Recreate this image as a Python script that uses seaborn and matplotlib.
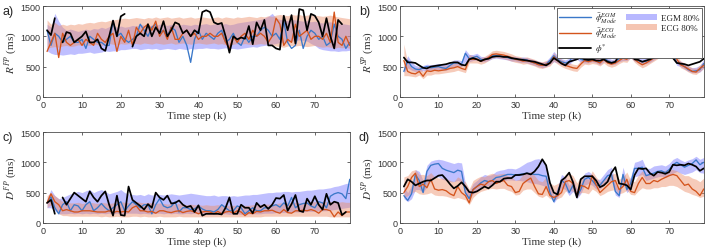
import numpy as np
import pandas as pd
import matplotlib
matplotlib.use("Agg")
import matplotlib.pyplot as plt
import seaborn as sns
from matplotlib.patches import Patch
from matplotlib.lines import Line2D

# ---------------- data ----------------
NaN = np.nan
# Panel a: R^FP
a_true = [1100, 1020, 1300, NaN, 900, 1070, 1050, 900, 950, 1000,
          1080, 900, 900, 950, 800, 760, 1000, 1260, 1000, 1330,
          1370, NaN, 830, 1000, 1050, 1000, 1200, 1000, 1150, 1050,
          1250, 1000, 1100, 1230, 1200, 1050, 1100, 1000, 1100, 1050,
          1400, 1430, 1400, 1230, 1200, 1220, 1000, 730, 1000, 950,
          980, 960, 1170, 870, 1230, 1100, 1270, 850, 850, 800,
          780, 1340, 1100, 1350, 880, 1450, 1430, 1100, 1370, 1340,
          1230, 1000, 1300, 1000, 800, 1270, 1200]
a_egm = [1100, 850, 1050, 1000, 900, 950, 1000, 900, 900, 950,
         800, 1000, 950, 900, 900, 850, 850, 1250, 1000, 1050,
         950, 900, 950, 1000, 1200, 1100, 1000, 1150, 1200, 1050,
         1100, 1000, 1150, 1100, 900, 1000, 850, 570, 950, 1100,
         950, 1050, 1000, 950, 1050, 1100, 900, 950, 1050, 900,
         850, 1000, 900, 1000, 1000, 1100, 1150, 1100, 1000, 1050,
         950, 1250, 900, 800, 850, 1100, 800, 1000, 1100, 1050,
         950, 1000, 850, 900, 1200, 1000, 950, 800, 900]
a_ecg = [750, 900, 1050, 650, 1050, 900, 850, 900, 950, 850,
         950, 900, 850, 1050, 950, 900, 1000, 1050, 750, 1000,
         900, 1100, 850, 1150, 1050, 1150, 1200, 1100, 1250, 1000,
         1100, 950, 1150, 950, 950, 1050, 1100, 1000, 1050, 950,
         1000, 1000, 1050, 1000, 1000, 1050, 900, 800, 1000, 900,
         1000, 1050, 950, 1100, 1000, 1050, 1000, 900, 1000, 1300,
         1200, 850, 950, 900, 1200, 1000, 1050, 1100, 950, 1000,
         1000, 950, 1050, 900, 1400, 900, 850, 1000, 850]
a_egm_lo = [760, 720, 700, 700, 690, 700, 710, 700, 720, 720,
            730, 740, 720, 730, 740, 760, 750, 760, 760, 780,
            780, 790, 800, 800, 780, 790, 800, 790, 800, 780,
            790, 800, 790, 780, 800, 790, 780, 800, 790, 800,
            800, 810, 800, 800, 790, 800, 810, 800, 800, 790,
            800, 810, 820, 830, 820, 840, 850, 860, 870, 880,
            900, 900, 910, 920, 930, 940, 930, 920, 880, 850,
            800, 780, 770, 760, 760, 750, 760, 760, 770]
a_egm_hi = [1200, 1150, 1380, 1250, 1150, 1100, 1120, 1100, 1080, 1100,
            1120, 1100, 1130, 1120, 1150, 1130, 1160, 1180, 1150, 1170,
            1150, 1160, 1180, 1170, 1200, 1180, 1160, 1190, 1180, 1200,
            1190, 1180, 1200, 1190, 1180, 1200, 1190, 1180, 1200, 1190,
            1200, 1210, 1190, 1200, 1220, 1200, 1210, 1190, 1200, 1220,
            1230, 1240, 1250, 1260, 1270, 1280, 1300, 1330, 1380, 1300,
            1280, 1270, 1260, 1280, 1270, 1260, 1250, 1260, 1240, 1250,
            1230, 1220, 1230, 1240, 1220, 1200, 1210, 1200, 1190]
a_ecg_lo = [800, 820, 830, 820, 840, 850, 830, 840, 860, 850,
            860, 850, 870, 860, 850, 870, 880, 870, 860, 880,
            870, 880, 890, 880, 870, 890, 880, 870, 890, 880,
            870, 880, 890, 870, 880, 890, 880, 870, 880, 890,
            880, 870, 880, 890, 870, 880, 860, 850, 870, 880,
            870, 880, 870, 860, 870, 880, 870, 880, 860, 840,
            830, 820, 840, 850, 840, 850, 840, 830, 840, 850,
            830, 820, 830, 820, 800, 820, 810, 820, 800]
a_ecg_hi = [1270, 1200, 1230, 1180, 1200, 1180, 1200, 1190, 1210, 1200,
            1220, 1230, 1220, 1240, 1250, 1240, 1260, 1270, 1280, 1290,
            1300, 1290, 1300, 1310, 1300, 1290, 1310, 1300, 1320, 1300,
            1310, 1320, 1300, 1310, 1320, 1300, 1310, 1320, 1300, 1310,
            1320, 1310, 1300, 1310, 1320, 1300, 1320, 1310, 1300, 1320,
            1310, 1320, 1330, 1320, 1310, 1330, 1320, 1340, 1330, 1350,
            1360, 1350, 1340, 1360, 1350, 1360, 1340, 1350, 1360, 1350,
            1340, 1330, 1340, 1350, 1330, 1320, 1310, 1300, 1290]

# Panel b: R^SP
b_true = [650, 570, 570, 560, 520, 480, 470, 500, 510, 520,
          530, 540, 560, 570, 570, 530, 520, 620, 640, 620,
          590, 620, 630, 660, 670, 670, 660, 660, 640, 630,
          620, 610, 600, 590, 580, 560, 540, 520, 560, 640,
          600, 550, 520, 580, 600, 620, 650, 620, 610, 620,
          600, 600, 620, 580, 560, 580, 690, 700, 690, 710,
          620, 610, 580, 600, 620, 650, 700, 740, 750, 750,
          640, 560, 550, 540, 520, 540, 560, 580, 630]
b_egm = [420, 600, 500, 460, 450, 480, 500, 480, 490, 500,
         480, 470, 520, 560, 560, 540, 720, 630, 650, 670,
         620, 610, 640, 680, 680, 670, 660, 650, 630, 630,
         610, 620, 610, 580, 560, 540, 520, 540, 600, 680,
         620, 580, 560, 580, 680, 720, 620, 600, 600, 630,
         600, 570, 640, 600, 570, 580, 630, 660, 650, 700,
         640, 600, 580, 590, 620, 660, 700, 780, 790, 800,
         700, 560, 540, 500, 450, 420, 430, 450, 550]
b_ecg = [600, 420, 390, 380, 420, 340, 430, 420, 440, 430,
         440, 450, 470, 480, 500, 470, 450, 630, 620, 620,
         590, 610, 650, 700, 710, 700, 690, 670, 650, 620,
         610, 590, 600, 580, 560, 530, 520, 540, 560, 660,
         600, 560, 520, 500, 480, 470, 540, 600, 580, 600,
         590, 560, 620, 560, 540, 560, 600, 640, 620, 720,
         620, 570, 530, 560, 600, 640, 690, 760, 770, 800,
         740, 620, 530, 500, 460, 420, 410, 470, 520]
b_egm_lo = [400, 480, 440, 420, 420, 430, 440, 440, 450, 450,
            440, 440, 470, 500, 500, 500, 580, 580, 600, 610,
            580, 580, 600, 630, 640, 630, 620, 610, 590, 590,
            570, 570, 560, 540, 520, 500, 480, 500, 540, 580,
            560, 530, 510, 530, 600, 620, 570, 560, 560, 580,
            560, 530, 580, 560, 530, 540, 580, 600, 600, 640,
            590, 560, 540, 550, 570, 610, 650, 720, 740, 750,
            640, 520, 500, 460, 420, 400, 400, 410, 480]
b_egm_hi = [520, 680, 580, 520, 500, 520, 540, 530, 540, 550,
            540, 540, 570, 610, 610, 600, 780, 700, 700, 720,
            670, 660, 690, 720, 720, 710, 700, 690, 670, 670,
            650, 660, 650, 630, 610, 590, 570, 590, 660, 750,
            680, 630, 610, 640, 740, 780, 680, 650, 650, 680,
            650, 620, 700, 650, 620, 630, 690, 720, 710, 760,
            700, 650, 630, 640, 670, 710, 760, 820, 830, 840,
            760, 620, 590, 550, 500, 480, 490, 520, 620]
b_ecg_lo = [350, 350, 340, 330, 360, 300, 360, 360, 380, 380,
            390, 400, 410, 420, 440, 420, 400, 560, 560, 560,
            540, 560, 600, 640, 650, 640, 630, 610, 590, 570,
            560, 540, 550, 530, 510, 480, 470, 490, 510, 590,
            540, 500, 470, 450, 430, 420, 490, 540, 530, 550,
            540, 510, 560, 510, 490, 510, 550, 580, 570, 650,
            570, 520, 480, 510, 550, 590, 630, 700, 710, 740,
            680, 570, 480, 450, 410, 380, 370, 420, 470]
b_ecg_hi = [870, 560, 480, 460, 500, 420, 500, 490, 510, 500,
            510, 520, 540, 550, 570, 540, 520, 700, 680, 680,
            650, 670, 710, 760, 770, 760, 750, 730, 710, 680,
            670, 650, 660, 640, 620, 590, 580, 600, 620, 730,
            660, 620, 580, 560, 540, 530, 600, 660, 640, 660,
            650, 620, 680, 620, 600, 620, 660, 700, 680, 790,
            680, 630, 590, 620, 660, 700, 750, 820, 830, 860,
            800, 680, 590, 560, 520, 480, 470, 530, 580]

# Panel c: D^FP
c_true = [330, 380, 150, NaN, 420, 300, 400, 500, 450, 400,
          350, 520, 420, 350, 450, 520, 300, 120, 450, 130,
          120, 600, 380, 330, 280, 220, 310, 250, 500, 420,
          380, 450, 320, 330, 370, 300, 260, 280, 180, 290,
          120, 150, 150, 150, 150, 140, 250, 420, 150, 150,
          300, 250, 250, 160, 330, 260, 300, 230, 300, 410,
          400, 460, 200, 310, 460, 200, 180, 400, 300, 440,
          300, 220, 480, 300, 350, 330, 130, 180]
c_egm = [330, 430, 250, 150, 300, 350, 200, 300, 280, 200,
         300, 350, 200, 250, 320, 250, 200, 250, 300, 350,
         200, 280, 350, 300, 250, 300, 300, 150, 300, 400,
         280, 250, 270, 350, 180, 250, 250, 220, 230, 280,
         230, 200, 200, 180, 220, 300, 250, 200, 200, 280,
         250, 150, 200, 250, 200, 200, 250, 250, 280, 300,
         260, 330, 280, 420, 250, 300, 320, 330, 280, 250,
         350, 330, 250, 440, 480, 500, 480, 400, 720]
c_ecg = [330, 480, 350, 300, 200, 220, 200, 180, 180, 200,
         200, 200, 190, 180, 180, 180, 200, 170, 190, 180,
         190, 180, 250, 280, 200, 200, 180, 190, 160, 200,
         200, 180, 170, 190, 200, 170, 190, 200, 180, 150,
         180, 190, 180, 150, 190, 150, 180, 190, 160, 200,
         180, 120, 170, 150, 190, 180, 200, 200, 210, 180,
         160, 220, 170, 160, 200, 200, 210, 200, 220, 200,
         160, 220, 220, 200, 100, 180, 120, 180, 180]
c_egm_lo = [250, 250, 200, 150, 150, 150, 160, 150, 160, 150,
            160, 150, 160, 150, 160, 150, 160, 150, 160, 150,
            150, 160, 160, 160, 150, 160, 150, 150, 160, 160,
            150, 160, 150, 160, 150, 150, 160, 150, 160, 150,
            150, 150, 140, 140, 150, 150, 150, 140, 150, 150,
            140, 140, 150, 150, 150, 150, 160, 160, 160, 170,
            170, 170, 170, 180, 180, 180, 180, 190, 190, 190,
            200, 200, 200, 210, 220, 230, 240, 250, 260]
c_egm_hi = [400, 550, 450, 400, 420, 450, 480, 500, 520, 500,
            530, 550, 500, 530, 550, 520, 480, 500, 520, 550,
            500, 480, 470, 460, 470, 450, 480, 460, 470, 470,
            460, 470, 480, 470, 460, 470, 480, 490, 480, 470,
            460, 450, 450, 460, 440, 450, 450, 440, 450, 440,
            450, 460, 460, 470, 470, 480, 490, 500, 500, 510,
            510, 520, 520, 510, 520, 520, 530, 540, 540, 550,
            560, 560, 570, 580, 600, 610, 630, 650, 660]
c_ecg_lo = [250, 300, 250, 150, 120, 120, 110, 110, 110, 110,
            110, 110, 110, 110, 100, 110, 100, 100, 110, 100,
            100, 100, 110, 110, 100, 110, 100, 100, 100, 110,
            100, 100, 100, 100, 110, 100, 100, 100, 100, 100,
            100, 100, 100, 100, 100, 100, 100, 100, 100, 100,
            100, 100, 100, 100, 100, 100, 110, 110, 110, 110,
            110, 110, 110, 110, 110, 110, 110, 110, 110, 110,
            110, 110, 110, 100, 100, 100, 100, 100, 100]
c_ecg_hi = [450, 500, 450, 400, 350, 340, 330, 330, 340, 320,
            330, 340, 330, 320, 340, 330, 320, 330, 340, 350,
            340, 330, 340, 350, 340, 330, 340, 330, 320, 330,
            320, 310, 320, 310, 320, 310, 300, 310, 300, 300,
            290, 300, 290, 290, 300, 290, 290, 280, 290, 290,
            280, 290, 290, 300, 300, 300, 310, 310, 310, 320,
            330, 330, 330, 340, 340, 330, 340, 340, 350, 350,
            340, 340, 350, 350, 340, 340, 350, 340, 340]

# Panel d: D^SP
d_true = [600, 720, 680, 620, 650, 680, 700, 700, 740, 780,
          790, 720, 640, 570, 610, 670, 600, 510, 500, 520,
          560, 600, 570, 620, 680, 680, 730, 740, 740, 790,
          790, 800, 820, 800, 850, 930, 1050, 950, 660, 500,
          470, 700, 750, 830, 670, 420, 720, 770, 770, 770,
          700, 590, 620, 680, 830, 920, 650, 640, 620, 550,
          790, 900, 890, 900, 820, 780, 840, 830, 810, 840,
          960, 950, 960, 950, 980, 960, 930, 860, 900]
d_egm = [450, 370, 480, 800, 700, 500, 850, 950, 970, 980,
         900, 870, 850, 830, 870, 850, 500, 400, 550, 600,
         660, 700, 680, 700, 750, 760, 780, 800, 800, 790,
         800, 810, 820, 810, 800, 800, 780, 770, 500, 350,
         500, 700, 650, 500, 620, 430, 550, 720, 750, 700,
         620, 620, 700, 780, 800, 520, 450, 800, 550, 650,
         900, 900, 920, 780, 800, 820, 850, 860, 830, 880,
         960, 1000, 960, 920, 950, 980, 1040, 960, 1000]
d_ecg = [500, 600, 750, 820, 600, 640, 580, 720, 560, 540,
         550, 530, 480, 450, 600, 500, 450, 330, 550, 600,
         640, 620, 680, 700, 650, 680, 700, 620, 600, 500,
         520, 650, 700, 740, 600, 480, 470, 600, 450, 420,
         450, 500, 680, 700, 650, 450, 620, 600, 560, 780,
         630, 500, 560, 620, 680, 700, 550, 600, 720, 520,
         500, 650, 750, 650, 650, 700, 680, 720, 750, 780,
         800, 780, 700, 620, 640, 560, 520, 450, 560]
d_egm_lo = [400, 350, 400, 550, 550, 500, 600, 700, 750, 760,
            720, 700, 680, 680, 700, 680, 450, 380, 480, 530,
            580, 620, 610, 620, 660, 680, 700, 710, 710, 700,
            700, 690, 680, 660, 650, 640, 620, 600, 450, 330,
            420, 580, 550, 450, 520, 400, 480, 620, 650, 620,
            560, 560, 620, 680, 700, 460, 420, 650, 500, 560,
            760, 780, 800, 700, 720, 740, 760, 770, 750, 780,
            820, 850, 820, 800, 820, 840, 880, 830, 820]
d_egm_hi = [600, 500, 620, 880, 850, 700, 950, 1020, 1040, 1050,
            1040, 1020, 1000, 980, 1000, 990, 650, 520, 650, 700,
            760, 800, 780, 800, 850, 870, 880, 900, 900, 890,
            920, 960, 1000, 1020, 1050, 1060, 1040, 950, 650, 450,
            600, 800, 760, 620, 720, 560, 660, 820, 850, 800,
            720, 720, 800, 880, 920, 640, 560, 920, 680, 760,
            1000, 1020, 1050, 900, 900, 940, 950, 960, 940, 980,
            1050, 1080, 1040, 1010, 1040, 1060, 1100, 1050, 1080]
d_ecg_lo = [420, 450, 500, 520, 480, 470, 480, 500, 460, 450,
            450, 440, 420, 400, 420, 400, 380, 300, 420, 480,
            520, 540, 560, 570, 560, 570, 570, 540, 520, 460,
            470, 540, 560, 560, 500, 440, 420, 460, 400, 380,
            400, 430, 520, 540, 520, 420, 500, 500, 480, 560,
            520, 450, 480, 520, 540, 550, 480, 500, 540, 470,
            460, 530, 580, 560, 560, 580, 580, 600, 600, 620,
            620, 600, 560, 520, 500, 470, 450, 420, 440]
d_ecg_hi = [760, 780, 860, 880, 800, 800, 780, 830, 760, 740,
            740, 730, 700, 680, 760, 720, 680, 560, 700, 740,
            770, 760, 800, 820, 800, 810, 820, 780, 760, 700,
            720, 800, 830, 850, 780, 700, 680, 760, 660, 620,
            650, 700, 800, 820, 780, 660, 760, 740, 720, 860,
            760, 680, 720, 760, 800, 820, 720, 760, 840, 700,
            680, 790, 860, 800, 800, 830, 820, 850, 870, 880,
            880, 860, 820, 780, 780, 740, 720, 680, 740]

panel_letters = ["a)", "b)", "c)", "d)"]
ylabels = [r"$R^{FP}$ (ms)", r"$R^{SP}$ (ms)", r"$D^{FP}$ (ms)", r"$D^{SP}$ (ms)"]
xlabel = "Time step (k)"
xticks = [0, 10, 20, 30, 40, 50, 60, 70]
yticks = [0, 500, 1000, 1500]
legend_labels = [r"$\bar{\phi}^{EGM}_{Mode}$", r"$\bar{\phi}^{ECG}_{Mode}$",
                 r"$\phi^{*}$", "EGM 80%", "ECG 80%"]

panels = [
    (a_true, a_egm, a_ecg, a_egm_lo, a_egm_hi, a_ecg_lo, a_ecg_hi),
    (b_true, b_egm, b_ecg, b_egm_lo, b_egm_hi, b_ecg_lo, b_ecg_hi),
    (c_true, c_egm, c_ecg, c_egm_lo, c_egm_hi, c_ecg_lo, c_ecg_hi),
    (d_true, d_egm, d_ecg, d_egm_lo, d_egm_hi, d_ecg_lo, d_ecg_hi),
]

# ---------------- style ----------------
sns.set_style("ticks")
plt.rcParams["font.family"] = ["Liberation Sans", "DejaVu Sans"]
plt.rcParams["mathtext.fontset"] = "stix"
plt.rcParams["axes.edgecolor"] = "#4d4d4d"
plt.rcParams["xtick.color"] = "#4d4d4d"
plt.rcParams["ytick.color"] = "#4d4d4d"

C_EGM = "#3a78c9"
C_ECG = "#d4541c"
C_TRUE = "black"
F_EGM = (0.45, 0.45, 1.0)
F_ECG = (0.93, 0.55, 0.40)

fig = plt.figure(figsize=(7.08, 2.51), dpi=100)
positions = [
    [0.061, 0.610, 0.433, 0.362],
    [0.565, 0.610, 0.429, 0.362],
    [0.061, 0.108, 0.433, 0.362],
    [0.565, 0.108, 0.429, 0.362],
]


def line_frame(vals):
    k = np.arange(1, len(vals) + 1)
    v = np.asarray(vals, dtype=float)
    seg = np.cumsum(np.isnan(v))
    df = pd.DataFrame({"k": k, "v": v, "seg": seg}).dropna()
    return df


for i, (tr, egm, ecg, elo, ehi, clo, chi) in enumerate(panels):
    ax = fig.add_axes(positions[i])
    ke = np.arange(1, len(elo) + 1)
    kc = np.arange(1, len(clo) + 1)
    ax.fill_between(ke, elo, ehi, color=F_EGM, alpha=0.45, lw=0)
    ax.fill_between(kc, clo, chi, color=F_ECG, alpha=0.45, lw=0)
    for vals, col, lw in [(egm, C_EGM, 0.95), (ecg, C_ECG, 0.95), (tr, C_TRUE, 1.25)]:
        df = line_frame(vals)
        sns.lineplot(data=df, x="k", y="v", units="seg", estimator=None,
                     color=col, lw=lw, ax=ax, legend=False)
    ax.set_xlim(0, 79)
    ax.set_ylim(0, 1500)
    ax.set_xticks(xticks)
    ax.set_yticks(yticks)
    ax.tick_params(direction="in", length=2.5, width=0.6, labelsize=6.5,
                   top=True, right=True, pad=2, labelcolor="#333333")
    for s in ax.spines.values():
        s.set_linewidth(0.6)
    ax.set_xlabel(xlabel, family="Liberation Serif", fontsize=8, labelpad=1.5,
                  color="#333333")
    ax.set_ylabel(ylabels[i], family="Liberation Serif", fontsize=8, labelpad=1,
                  color="#333333")
    fig.text(positions[i][0] - 0.058, positions[i][1] + positions[i][3] - 0.02,
             panel_letters[i], fontsize=9, ha="left", va="center")

    if i == 1:
        handles = [Line2D([], [], color=C_EGM, lw=1.0),
                   Line2D([], [], color=C_ECG, lw=1.0),
                   Line2D([], [], color=C_TRUE, lw=1.3),
                   Patch(facecolor=F_EGM, alpha=0.5, lw=0),
                   Patch(facecolor=F_ECG, alpha=0.5, lw=0)]
        leg = ax.legend(handles, legend_labels, ncol=2, loc="upper right",
                        prop={"family": "Liberation Serif", "size": 6.5},
                        frameon=True, fancybox=False, framealpha=1,
                        edgecolor="#4d4d4d", borderpad=0.3, labelspacing=0.15,
                        handlelength=3.5, handletextpad=0.4, columnspacing=1.0,
                        borderaxespad=0.2)
        leg.get_frame().set_linewidth(0.6)

fig.savefig("out.png", dpi=100)
